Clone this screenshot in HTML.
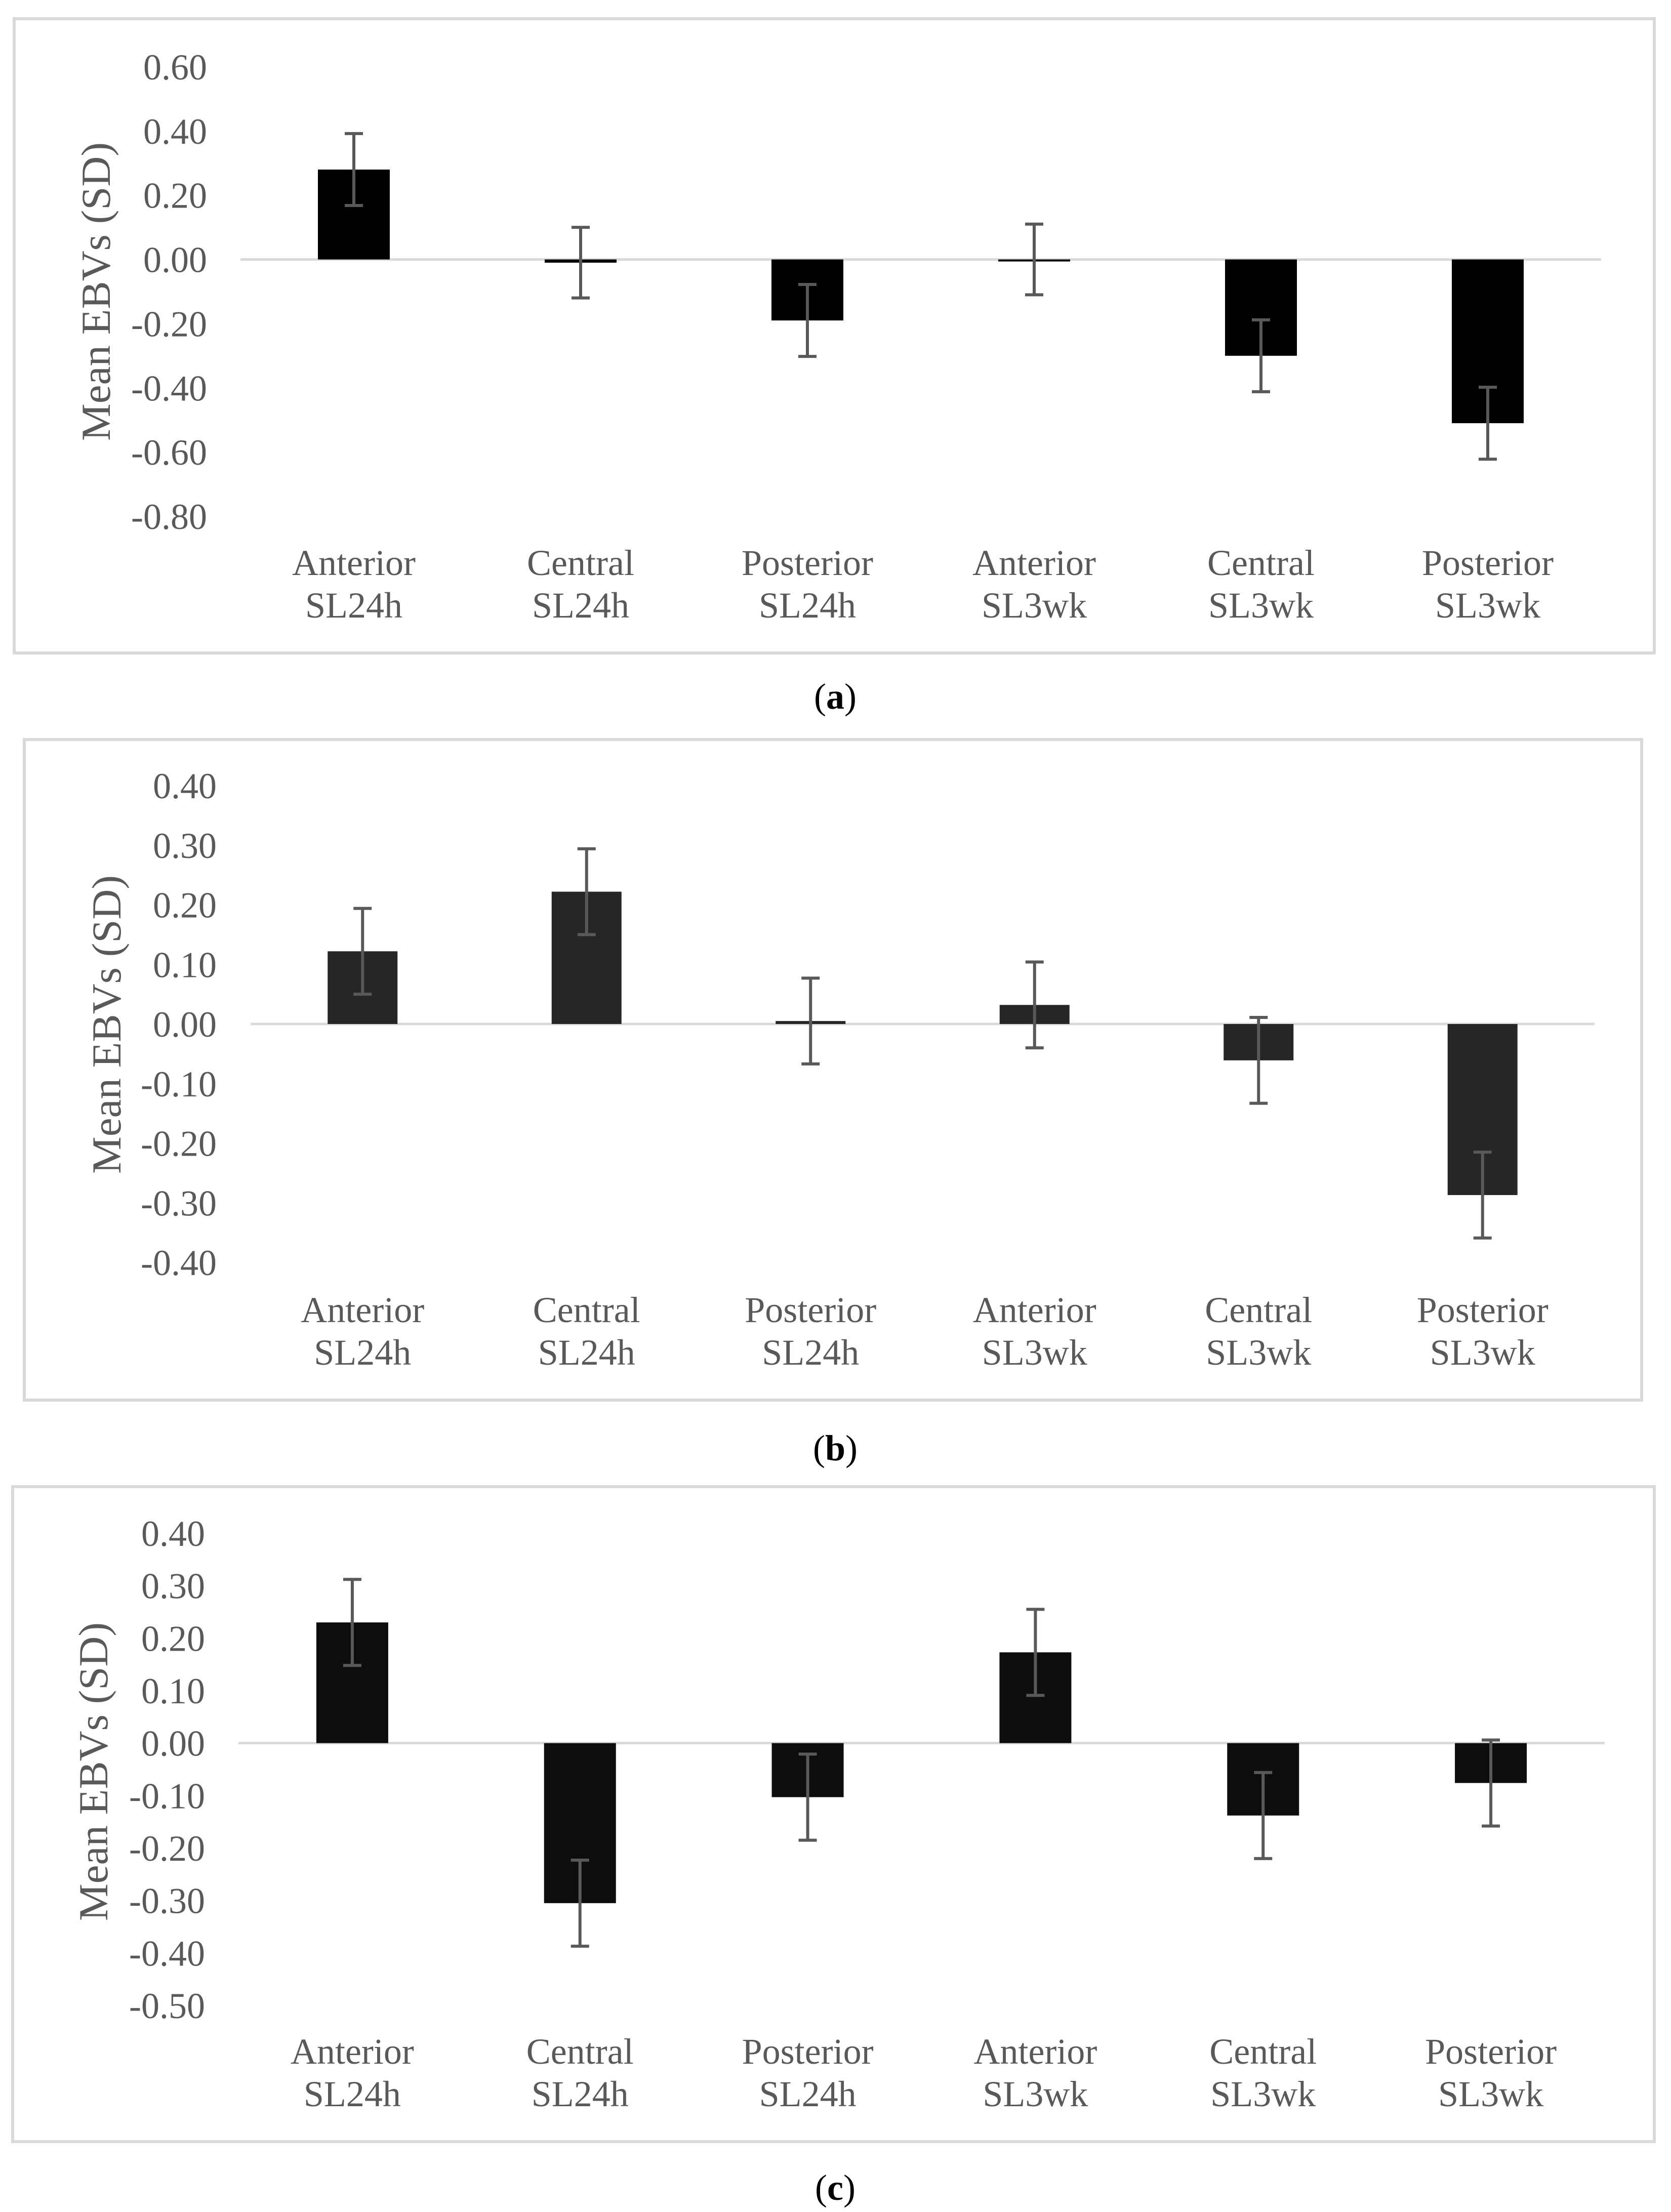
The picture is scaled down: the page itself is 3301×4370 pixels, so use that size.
<!DOCTYPE html>
<html><head><meta charset="utf-8">
<style>
html,body{margin:0;padding:0;background:#fff;}
svg{display:block;font-family:"Liberation Serif",serif;}
</style></head>
<body>
<svg id="root" width="3301" height="4370" viewBox="0 0 3301 4370" xmlns="http://www.w3.org/2000/svg">
<rect x="0" y="0" width="3301" height="4370" fill="#fff"/>
</svg>
<script>
const categoriesTop = ["Anterior","Central","Posterior","Anterior","Central","Posterior"];
const categoriesBottom = ["SL24h","SL24h","SL24h","SL3wk","SL3wk","SL3wk"];
const valuesA = [0.28, -0.01, -0.19, 0.00, -0.30, -0.51];
const errorsA = [0.112, 0.11, 0.112, 0.11, 0.112, 0.112];
const ticksA = [0.6, 0.4, 0.2, 0, -0.2, -0.4, -0.6, -0.8];
const valuesB = [0.122, 0.222, 0.005, 0.032, -0.061, -0.287];
const errorsB = [0.072, 0.072, 0.072, 0.072, 0.072, 0.072];
const ticksB = [0.4, 0.3, 0.2, 0.1, 0, -0.1, -0.2, -0.3, -0.4];
const valuesC = [0.230, -0.305, -0.103, 0.173, -0.138, -0.076];
const errorsC = [0.082, 0.082, 0.082, 0.082, 0.082, 0.082];
const ticksC = [0.4, 0.3, 0.2, 0.1, 0, -0.1, -0.2, -0.3, -0.4, -0.5];

const NS = "http://www.w3.org/2000/svg";
const root = document.getElementById("root");
function mk(tag, attrs, parent){
  const e = document.createElementNS(NS, tag);
  for (const k in attrs) e.setAttribute(k, attrs[k]);
  (parent||root).appendChild(e);
  return e;
}

const panels = [
 {id:"a", vals:valuesA, errs:errorsA, ticks:ticksA, frame:[28,37,3240,1253], x0:475, x1:3163, yTop:132, yBot:1020,
  tickRight:409, barW:142, color:"#000000", lab1:1136, lab2:1220, titleX:189, titleY:576, capY:1400, capX:1650},
 {id:"b", vals:valuesB, errs:errorsB, ticks:ticksB, frame:[48,1461,3195,1305], x0:495, x1:3150, yTop:1552, yBot:2494,
  tickRight:428, barW:138, color:"#262626", lab1:2612, lab2:2696, titleX:210, titleY:2024, capY:2885, capX:1650},
 {id:"c", vals:valuesC, errs:errorsC, ticks:ticksC, frame:[25,2937,3243,1294], x0:471, x1:3170, yTop:3029, yBot:3962,
  tickRight:405, barW:142, color:"#0d0d0d", lab1:4077, lab2:4161, titleX:184, titleY:3500, capY:4346, capX:1650}
];

panels.forEach(p => {
  const g = mk("g", {});
  
  
  const fr = mk("rect", {x:p.frame[0], y:p.frame[1], width:p.frame[2], height:p.frame[3], fill:"none", stroke:"#d9d9d9", "stroke-width":6}, g);
  
  
  const tMax = p.ticks[0], tMin = p.ticks[p.ticks.length-1];
  const y = v => p.yTop + (tMax - v) / (tMax - tMin) * (p.yBot - p.yTop);
  const band = (p.x1 - p.x0) / p.vals.length;
  const xc = i => p.x0 + band * (i + 0.5);

  p.ticks.forEach(t => {
    const tx = mk("text", {x:p.tickRight, y:y(t)+25, "text-anchor":"end", "font-size":72, fill:"#595959"}, g);
    tx.textContent = t.toFixed(2);
    
    
  });
  const zl = mk("line", {x1:p.x0, x2:p.x1, y1:y(0), y2:y(0), stroke:"#d9d9d9", "stroke-width":5}, g);
  
  

  p.vals.forEach((v, i) => {
    const top = Math.min(y(v), y(0)), h = Math.max(Math.abs(y(v) - y(0)), 4);
    const b = mk("rect", {x:xc(i)-p.barW/2, y:(v>=0?top:y(0)), width:p.barW, height:h, fill:p.color}, g);
    
    
    const e = p.errs[i];
    const eg = mk("g", {stroke:"#595959", "stroke-width":6}, g);
    
    
    mk("line", {x1:xc(i), x2:xc(i), y1:y(v+e), y2:y(v-e)}, eg);
    mk("line", {x1:xc(i)-18, x2:xc(i)+18, y1:y(v+e), y2:y(v+e)}, eg);
    mk("line", {x1:xc(i)-18, x2:xc(i)+18, y1:y(v-e), y2:y(v-e)}, eg);
    const l1 = mk("text", {x:xc(i), y:p.lab1, "text-anchor":"middle", "font-size":72, fill:"#595959"}, g);
    l1.textContent = categoriesTop[i];
    
    
    const l2 = mk("text", {x:xc(i), y:p.lab2, "text-anchor":"middle", "font-size":72, fill:"#595959"}, g);
    l2.textContent = categoriesBottom[i];
    
    
  });

  const tt = mk("text", {x:0, y:0, "text-anchor":"middle", "font-size":82, fill:"#595959",
     textLength:590, lengthAdjust:"spacingAndGlyphs",
     transform:`translate(${p.titleX+28},${p.titleY}) rotate(-90)`}, g);
  tt.textContent = "Mean EBVs (SD)";
  
  

  const cap = mk("text", {x:p.capX, y:p.capY, "text-anchor":"middle", "font-size":72, fill:"#000"}, root);
  
  
  const s1 = mk("tspan", {}, cap); s1.textContent = "(";
  const s2 = mk("tspan", {"font-weight":"bold"}, cap); s2.textContent = p.id;
  const s3 = mk("tspan", {}, cap); s3.textContent = ")";
});
</script>
</body></html>
